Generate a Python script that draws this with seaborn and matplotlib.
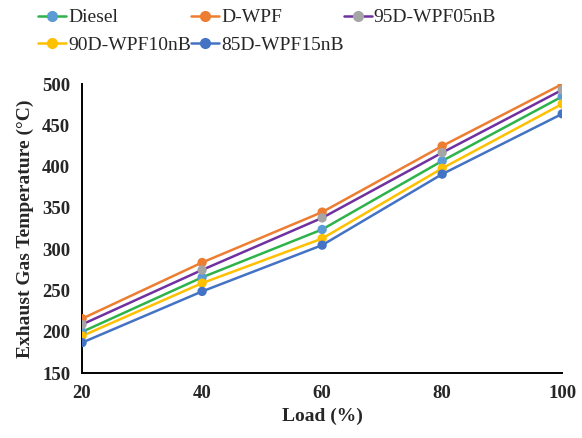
import pandas as pd
import seaborn as sns
import matplotlib.pyplot as plt
from matplotlib.lines import Line2D

sns.set_style("white")
plt.rcParams['font.family'] = ['Liberation Serif', 'DejaVu Serif']

# data
load = [20, 40, 60, 80, 100]
fuels = ["Diesel", "D-WPF", "95D-WPF05nB", "90D-WPF10nB", "85D-WPF15nB"]
diesel = [200, 266, 324, 407, 485]
d_wpf = [216, 284, 345, 425, 500]
d95_wpf05nb = [209, 275, 338, 417, 493]
d90_wpf10nb = [195, 259, 313, 398, 476]
d85_wpf15nb = [187, 249, 305, 391, 464]

line_colors = ["#2DB34A", "#ED7D31", "#7030A0", "#FFC000", "#4472C4"]
marker_colors = ["#5B9BD5", "#ED7D31", "#A5A5A5", "#FFC000", "#4472C4"]

df = pd.DataFrame({
    "Load (%)": load * 5,
    "EGT": diesel + d_wpf + d95_wpf05nb + d90_wpf10nb + d85_wpf15nb,
    "Fuel": [f for f in fuels for _ in load],
})

fig = plt.figure(figsize=(5.82, 4.38), dpi=100)
ax = fig.add_axes([0.141, 0.148, 0.825, 0.660])

sns.lineplot(data=df, x="Load (%)", y="EGT", hue="Fuel", hue_order=fuels,
             palette=line_colors, linewidth=1.8, legend=False, ax=ax)
sns.scatterplot(data=df, x="Load (%)", y="EGT", hue="Fuel", hue_order=fuels,
                palette=marker_colors, s=45, edgecolor="none", legend=False,
                ax=ax, zorder=3)

ax.set_xlim(20, 100)
ax.set_ylim(150, 500)
ax.set_xticks([20, 40, 60, 80, 100])
ax.set_yticks(range(150, 501, 50))
ax.tick_params(direction="inout", length=7, width=1.2, labelsize=13.5, pad=5)
for lab in ax.get_xticklabels() + ax.get_yticklabels():
    lab.set_fontweight("bold")
for side in ["top", "right"]:
    ax.spines[side].set_visible(False)
for side in ["left", "bottom"]:
    ax.spines[side].set_linewidth(1.4)
    ax.spines[side].set_color("black")
ax.set_xlabel("Load (%)", fontsize=14, fontweight="bold", labelpad=4)
ax.set_ylabel("Exhaust Gas Temperature (°C)", fontsize=14, fontweight="bold", labelpad=6)

handles = [Line2D([0], [0], color=lc, marker="o", markerfacecolor=mc,
                  markeredgecolor=mc, markersize=7, linewidth=1.8)
           for lc, mc in zip(line_colors, marker_colors)]
# legend fills column by column; reorder so it reads row by row
order = [0, 3, 1, 4, 2]
fig.legend([handles[i] for i in order], [fuels[i] for i in order],
           loc="upper left", bbox_to_anchor=(0.035, 1.02),
           ncol=3, frameon=False, fontsize=14, handlelength=1.45,
           handletextpad=0.1, columnspacing=0.0, labelspacing=0.5)

plt.savefig("out.png", dpi=100)
